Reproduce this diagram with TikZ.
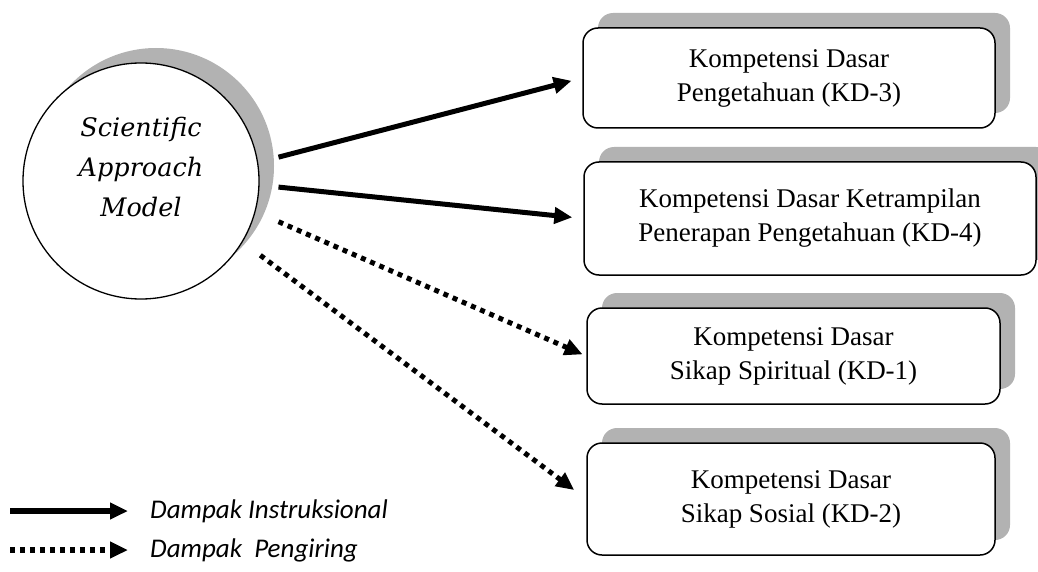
\documentclass[tikz,border=0pt]{standalone}
\usepackage{fontspec}
\setmainfont{Liberation Serif}
\newfontfamily\circfont{DejaVu Serif}
\newfontfamily\legfont{Carlito}
\usetikzlibrary{shapes,arrows.meta,positioning,shadows,calc}

\tikzset{
  grayshadow/.style={drop shadow={shadow xshift=15pt, shadow yshift=15pt, fill=black!30, opacity=1}},
  kdbox/.style={rectangle, draw, rounded corners=15pt, line width=1.5pt, fill=white, grayshadow,
    align=center, font=\fontsize{27}{34}\selectfont},
  impact/.style={line width=5pt, -{Triangle[length=18pt,width=16pt]}},
  follow/.style={impact, dash pattern=on 5pt off 5pt}
}

\begin{document}
\begin{tikzpicture}[x=1pt, y=-1pt]
\useasboundingbox (0,0) rectangle (1038,572);

\node[circle, draw, line width=1.3pt, fill=white, minimum size=236pt, inner sep=0pt, grayshadow] (sam) at (141,181) {};
\node[align=center, font=\circfont\itshape\fontsize{25.5}{40}\selectfont] (samtext) at ([yshift=14pt]sam.center) {Scientific\\Approach\\Model};

\node[kdbox, minimum width=412pt, minimum height=100pt] (kd3) at (789,78) {Kompetensi Dasar\\Pengetahuan (KD-3)};
\node[kdbox, minimum width=452pt, minimum height=113pt] (kd4) at (810,218.5) {Kompetensi Dasar Ketrampilan\\Penerapan Pengetahuan (KD-4)};
\node[kdbox, minimum width=413pt, minimum height=96pt] (kd1) at (793.5,356) {Kompetensi Dasar\\Sikap Spiritual (KD-1)};
\node[kdbox, minimum width=408pt, minimum height=112pt] (kd2) at (791,499) {Kompetensi Dasar\\Sikap Sosial (KD-2)};

\draw[impact, shorten <=21pt, shorten >=11pt] (sam.9) -- (kd3.west);
\draw[impact, shorten <=19pt, shorten >=11pt] (sam.-2) -- (kd4.west);
\draw[follow, shorten <=25pt, shorten >=4pt] (sam.-15) -- (kd1.west);
\draw[follow, shorten <=22pt, shorten >=15pt] (sam.-31) -- (kd2.west);

% legend
\coordinate (l1) at (10,511);
\coordinate (l2) at (10,550);
\node[anchor=west, inner sep=0pt, font=\legfont\itshape\fontsize{27}{32}\selectfont] (ins) at (150,511) {Dampak Instruksional};
\node[anchor=west, inner sep=0pt, font=\legfont\itshape\fontsize{27}{32}\selectfont] (pen) at (150,550) {Dampak\ \ Pengiring};
\draw[impact, line width=5.5pt, shorten >=22pt] (l1) -- (ins.west);
\draw[follow, line width=5.5pt, shorten >=22pt] (l2) -- (pen.west);
\end{tikzpicture}
\end{document}
